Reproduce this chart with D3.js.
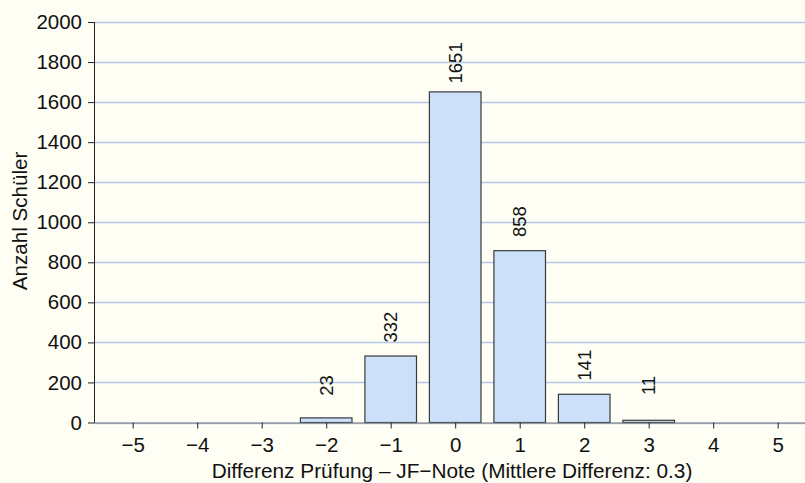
<!DOCTYPE html>
<html>
<head>
<meta charset="utf-8">
<script src="https://cdn.jsdelivr.net/npm/d3@7"></script>
<style>
  html, body { margin: 0; padding: 0; background: #fefef5; }
  svg { display: block; font-family: "Liberation Sans", Arial, Helvetica, sans-serif; }
</style>
</head>
<body>
<svg id="chart" width="805" height="483"></svg>
<script>
const differences = [-5, -4, -3, -2, -1, 0, 1, 2, 3, 4, 5];
const counts = [0, 0, 0, 23, 332, 1651, 858, 141, 11, 0, 0];
const yTicks = [0, 200, 400, 600, 800, 1000, 1200, 1400, 1600, 1800, 2000];
const xTickLabels = ["\u22125", "\u22124", "\u22123", "\u22122", "\u22121", "0", "1", "2", "3", "4", "5"];
const xTitle = "Differenz Pr\u00fcfung \u2013 JF\u2212Note (Mittlere Differenz: 0.3)";
const yTitle = "Anzahl Sch\u00fcler";

(function () {
const svg = d3.select("#chart");
const W = 805, H = 483;
svg.append("rect").attr("width", W).attr("height", H).attr("fill", "#fefef5");

const mLeft = 94, mTop = 22, mBottom = 422.5;
const x = d3.scaleLinear().domain([-5.6, 5.6]).range([mLeft, mLeft + 11.2 * 64.5]);
const y = d3.scaleLinear().domain([0, 2000]).range([mBottom, mTop]);
const bw = (x(1) - x(0)) * 0.8;

// gridlines
svg.append("g").selectAll("line").data(yTicks).join("line")
  .attr("x1", mLeft).attr("x2", W)
  .attr("y1", d => Math.round(y(d)) + 0.5).attr("y2", d => Math.round(y(d)) + 0.5)
  .attr("stroke", "#b4c8e6").attr("stroke-width", 1.3);

// bars
const data = differences.map((d, i) => ({ d, v: counts[i] }));
svg.append("g").selectAll("rect").data(data.filter(e => e.v > 0)).join("rect")
  .attr("x", e => x(e.d) - bw / 2)
  .attr("y", e => y(e.v))
  .attr("width", bw)
  .attr("height", e => y(0) - y(e.v))
  .attr("fill", "#cce0fa")
  .attr("stroke", "#3a3a3a")
  .attr("stroke-width", 1.2);

// value labels
svg.append("g").selectAll("text").data(data.filter(e => e.v > 0)).join("text")
  .attr("transform", e => {
    const cy = Math.min(y(e.v) - 29, y(0) - 37);
    return `translate(${x(e.d) + 6.5},${cy}) rotate(-90)`;
  })
  .attr("text-anchor", "middle")
  .attr("font-size", 18.5)
  .attr("fill", "#111")
  .text(e => e.v);

// y axis
const yAxis = d3.axisLeft(y).tickValues(yTicks).tickSize(6).tickPadding(6).tickFormat(d3.format("d"));
const gy = svg.append("g").attr("transform", `translate(${mLeft},0)`).call(yAxis);
gy.select(".domain").attr("stroke", "#222").attr("d", `M0.5,${mTop}V${mBottom + 0.5}`);
gy.selectAll(".tick line").attr("stroke", "#222");
gy.selectAll(".tick text").attr("font-size", 20.5).attr("fill", "#111").attr("font-family", "Liberation Sans, Arial, sans-serif");

// x axis
const xAxis = d3.axisBottom(x).tickValues(differences).tickSize(6).tickPadding(9)
  .tickFormat((d, i) => xTickLabels[i]);
const gx = svg.append("g").attr("transform", `translate(0,${mBottom})`).call(xAxis);
gx.select(".domain").attr("stroke", "#777").attr("d", `M${mLeft},0.5H${W}`);
gx.selectAll(".tick line").attr("stroke", "#222");
gx.selectAll(".tick text").attr("font-size", 20.5).attr("fill", "#111").attr("font-family", "Liberation Sans, Arial, sans-serif");

// titles
svg.append("text").attr("x", 452).attr("y", 478)
  .attr("text-anchor", "middle").attr("font-size", 20.8).attr("fill", "#111")
  .text(xTitle);
svg.append("text").attr("transform", `translate(27,221) rotate(-90)`)
  .attr("text-anchor", "middle").attr("font-size", 20.6).attr("fill", "#111")
  .text(yTitle);
})();
</script>
</body>
</html>
